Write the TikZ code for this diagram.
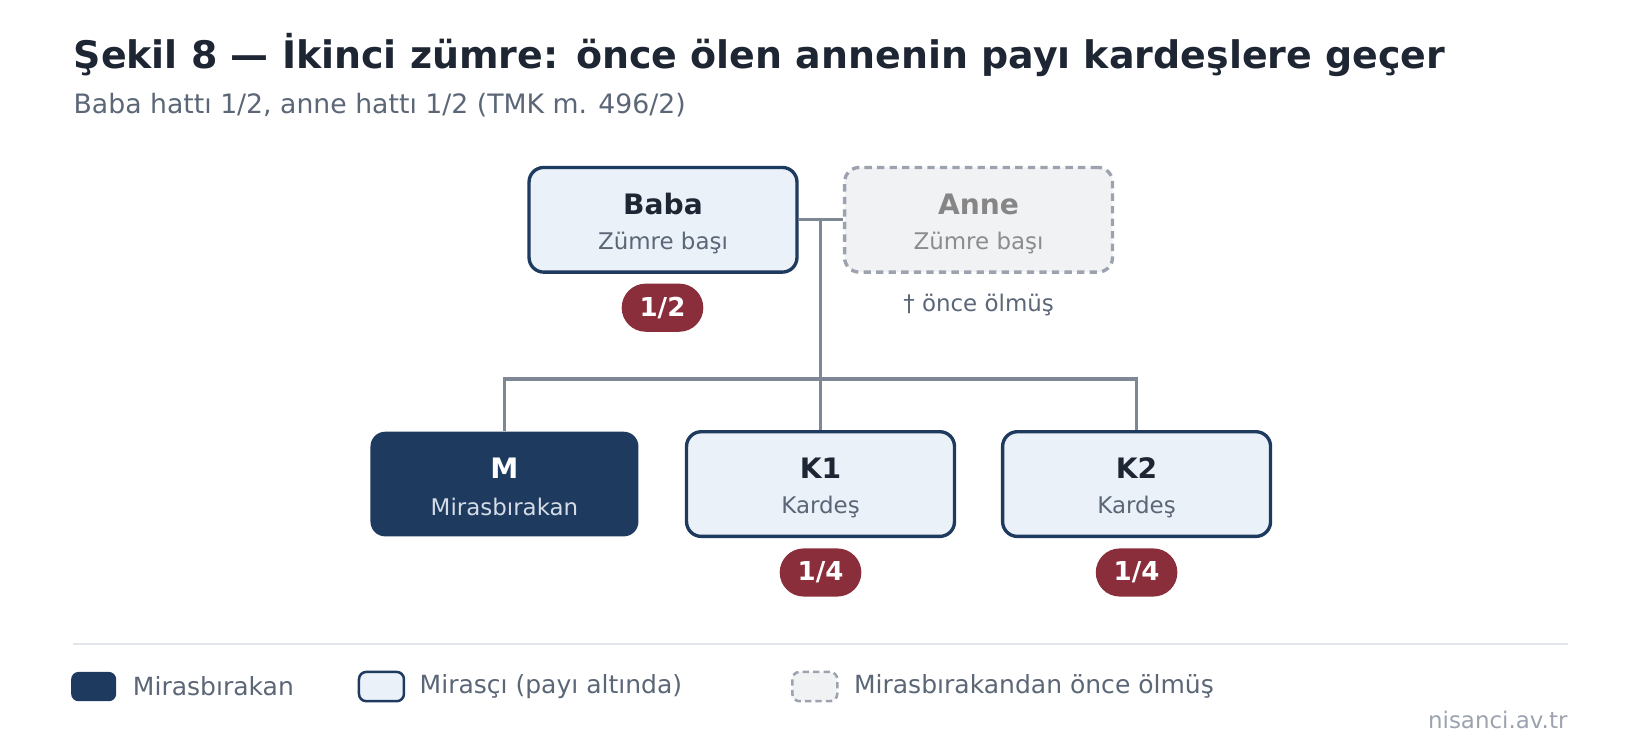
\documentclass[tikz,border=0pt]{standalone}
\usepackage{fontspec}
\setmainfont{DejaVu Sans}
\usetikzlibrary{calc}
\definecolor{navy}{HTML}{1F3A5F}
\definecolor{heirfill}{HTML}{EAF1F9}
\definecolor{deadfill}{HTML}{F1F2F4}
\definecolor{deadline}{HTML}{9CA3AF}
\definecolor{wire}{HTML}{7E8794}
\definecolor{share}{HTML}{8B2E3B}
\definecolor{ink}{HTML}{1E2633}
\definecolor{muted}{HTML}{5B6676}
\definecolor{rule}{HTML}{E2E6EA}
\tikzset{
	person/.style={rectangle,rounded corners=7bp,minimum width=128bp,minimum height=50bp,inner sep=0pt},
	heir/.style={person,draw=navy,line width=1.6bp,fill=heirfill},
	deceased/.style={person,fill=navy},
	predead/.style={person,draw=deadline,line width=1.6bp,dash pattern=on 3.5bp off 2.5bp,fill=deadfill},
	pname/.style={font=\fontsize{13.5}{16}\selectfont\bfseries,text=ink},
	prole/.style={font=\fontsize{11}{13}\selectfont,text=muted},
	pill/.style={rectangle,rounded corners=11.5bp,fill=share,minimum width=39bp,minimum height=23bp,inner sep=0pt,text=white,font=\fontsize{12.5}{15}\selectfont\bfseries},
	wireline/.style={draw=wire,line width=1.6bp},
	legtext/.style={anchor=west,font=\fontsize{12}{14}\selectfont,text=muted}
}
\begin{document}
\begin{tikzpicture}[x=0.5bp,y=-0.5bp]
	\useasboundingbox (0,0) rectangle (1567,718.5);
	% Title
	\node[anchor=base west,inner sep=0pt,text=ink,font=\fontsize{18.2}{21}\selectfont\bfseries] (title) at (70,65) {Şekil 8 — İkinci zümre: önce ölen annenin payı kardeşlere geçer};
	\node[anchor=base west,inner sep=0pt,text=muted,font=\fontsize{12.8}{15}\selectfont] (subtitle) at (70,108) {Baba hattı 1/2, anne hattı 1/2 (TMK m. 496/2)};
	% Parents
	\node[heir] (baba) at (633.5,210) {};
	\node[pname] at (633.5,195) {Baba};
	\node[prole] at (633.5,232) {Zümre başı};
	\node[predead] (anne) at (935,210) {};
	\node[pname,text=gray!95] at (935,195) {Anne};
	\node[prole,text=gray!90] at (935,232) {Zümre başı};
	\node[prole] (dead) at (935,291) {† önce ölmüş};
	% Children
	\node[deceased] (m) at (482,462.5) {};
	\node[pname,text=white] at (482,447) {M};
	\node[prole,text=heirfill!80!navy!70] at (482,484) {Mirasbırakan};
	\node[heir] (k1) at (784,462.5) {};
	\node[pname] at (784,447) {K1};
	\node[prole] at (784,484) {Kardeş};
	\node[heir] (k2) at (1086,462.5) {};
	\node[pname] at (1086,447) {K2};
	\node[prole] at (1086,484) {Kardeş};
	% Connectors
	\coordinate (join) at ($(baba.east)!0.5!(anne.west)$);
	\path (join) ++(0,152) coordinate (bar);
	\draw[wireline] (baba.east) -- (anne.west);
	\draw[wireline] (join) -- (bar);
	\draw[wireline] (m.north) |- (bar) -| (k2.north);
	\draw[wireline] (bar) -- (bar |- k1.north);
	% Shares
	\node[pill] (sbaba) at (633,294) {1/2};
	\node[pill] (sk1) at (784,547) {1/4};
	\node[pill] (sk2) at (1086,547) {1/4};
	% Legend
	\draw[rule,line width=1bp] (70,615) -- (1498,615);
	\node[deceased,minimum width=21.5bp,minimum height=14bp,rounded corners=3.5bp] (legm) at (89.5,656) {};
	\node[legtext] at (120,656) {Mirasbırakan};
	\node[heir,minimum width=21.5bp,minimum height=14bp,rounded corners=3.5bp,line width=1.2bp] (legh) at (364.5,656) {};
	\node[legtext] at (394,656) {Mirasçı (payı altında)};
	\node[predead,minimum width=21.5bp,minimum height=14bp,rounded corners=3.5bp,line width=1.2bp,dash pattern=on 3bp off 2bp] (legd) at (778.5,656) {};
	\node[legtext] at (809,656) {Mirasbırakandan önce ölmüş};
	\node[anchor=base east,inner sep=0pt,text=deadline,font=\fontsize{11}{13}\selectfont] (site) at (1498,696) {nisanci.av.tr};
\end{tikzpicture}
\end{document}
